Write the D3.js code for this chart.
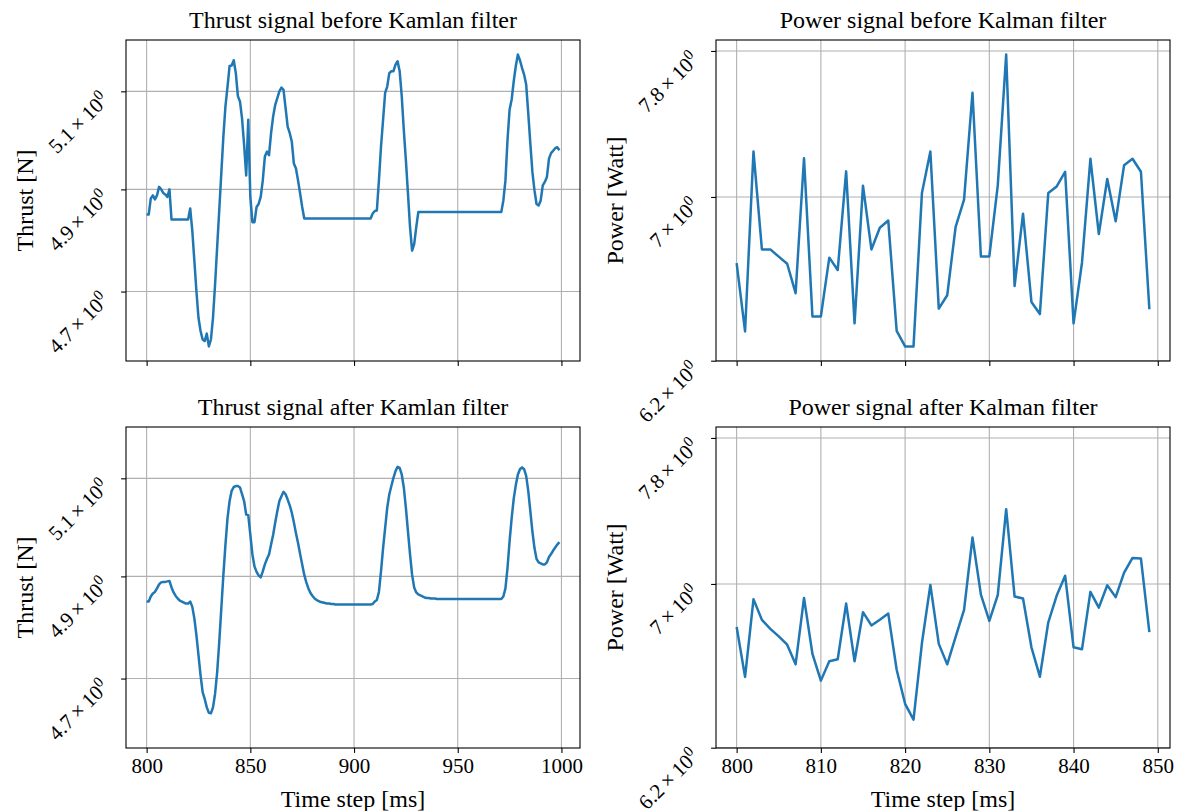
<!DOCTYPE html>
<html>
<head>
<meta charset="utf-8">
<script src="https://cdn.jsdelivr.net/npm/d3@7"></script>
<style>
body { margin: 0; background: #fff; }
svg text { font-family: "Liberation Serif", "Times New Roman", serif; fill: #000; }
</style>
</head>
<body>
<div id="chart"></div>
<script>
// ---- data ----
const thrustStart = 800;
const powerStart = 800;

// thrust [N], one value per ms step 800..999
const thrustBefore = [
    4.850, 4.850, 4.882, 4.888, 4.880, 4.888, 4.905, 4.900, 4.893, 4.890,
    4.885, 4.900, 4.840, 4.840, 4.840, 4.840, 4.840, 4.840, 4.840, 4.840,
    4.840, 4.862, 4.819, 4.760, 4.701, 4.650, 4.625, 4.609, 4.606, 4.620,
    4.596, 4.609, 4.650, 4.714, 4.786, 4.858, 4.932, 5.007, 5.069, 5.110,
    5.153, 5.154, 5.165, 5.138, 5.090, 5.079, 5.044, 4.990, 4.928, 5.041,
    4.885, 4.835, 4.835, 4.865, 4.871, 4.885, 4.918, 4.966, 4.976, 4.969,
    5.014, 5.048, 5.072, 5.086, 5.100, 5.108, 5.103, 5.065, 5.027, 5.014,
    4.996, 4.952, 4.942, 4.918, 4.892, 4.865, 4.842, 4.842, 4.842, 4.842,
    4.842, 4.842, 4.842, 4.842, 4.842, 4.842, 4.842, 4.842, 4.842, 4.842,
    4.842, 4.842, 4.842, 4.842, 4.842, 4.842, 4.842, 4.842, 4.842, 4.842,
    4.842, 4.842, 4.842, 4.842, 4.842, 4.842, 4.842, 4.842, 4.842, 4.852,
    4.857, 4.858, 4.918, 4.986, 5.041, 5.097, 5.110, 5.138, 5.142, 5.142,
    5.156, 5.163, 5.142, 5.090, 5.020, 4.959, 4.892, 4.825, 4.779, 4.792,
    4.825, 4.855, 4.855, 4.855, 4.855, 4.855, 4.855, 4.855, 4.855, 4.855,
    4.855, 4.855, 4.855, 4.855, 4.855, 4.855, 4.855, 4.855, 4.855, 4.855,
    4.855, 4.855, 4.855, 4.855, 4.855, 4.855, 4.855, 4.855, 4.855, 4.855,
    4.855, 4.855, 4.855, 4.855, 4.855, 4.855, 4.855, 4.855, 4.855, 4.855,
    4.855, 4.855, 4.878, 4.918, 5.000, 5.062, 5.083, 5.121, 5.153, 5.177,
    5.165, 5.149, 5.135, 5.114, 5.055, 4.993, 4.935, 4.898, 4.871, 4.868,
    4.878, 4.908, 4.915, 4.925, 4.962, 4.973, 4.978, 4.983, 4.985, 4.979
];

const thrustAfter = [
    4.850, 4.850, 4.860, 4.866, 4.869, 4.876, 4.884, 4.888, 4.889, 4.889,
    4.890, 4.891, 4.878, 4.868, 4.861, 4.856, 4.852, 4.850, 4.848, 4.846,
    4.846, 4.850, 4.840, 4.817, 4.784, 4.745, 4.706, 4.674, 4.661, 4.645,
    4.635, 4.634, 4.645, 4.671, 4.712, 4.770, 4.836, 4.903, 4.964, 5.018,
    5.053, 5.074, 5.082, 5.084, 5.084, 5.081, 5.067, 5.053, 5.025, 5.024,
    4.984, 4.944, 4.920, 4.909, 4.902, 4.898, 4.910, 4.924, 4.935, 4.944,
    4.964, 4.984, 5.009, 5.032, 5.053, 5.063, 5.072, 5.067, 5.056, 5.044,
    5.029, 5.009, 4.987, 4.967, 4.945, 4.924, 4.903, 4.888, 4.876, 4.867,
    4.861, 4.856, 4.853, 4.851, 4.849, 4.848, 4.847, 4.846, 4.846, 4.845,
    4.845, 4.844, 4.844, 4.844, 4.844, 4.844, 4.844, 4.844, 4.844, 4.844,
    4.844, 4.844, 4.844, 4.844, 4.844, 4.844, 4.844, 4.844, 4.844, 4.845,
    4.850, 4.853, 4.869, 4.910, 4.957, 4.998, 5.039, 5.067, 5.084, 5.101,
    5.115, 5.124, 5.122, 5.108, 5.081, 5.039, 4.991, 4.944, 4.903, 4.878,
    4.868, 4.864, 4.862, 4.860, 4.858, 4.857, 4.857, 4.856, 4.856, 4.856,
    4.855, 4.855, 4.855, 4.855, 4.855, 4.855, 4.855, 4.855, 4.855, 4.855,
    4.855, 4.855, 4.855, 4.855, 4.855, 4.855, 4.855, 4.855, 4.855, 4.855,
    4.855, 4.855, 4.855, 4.855, 4.855, 4.855, 4.855, 4.855, 4.855, 4.855,
    4.855, 4.855, 4.860, 4.876, 4.917, 4.971, 5.018, 5.058, 5.086, 5.108,
    5.119, 5.123, 5.119, 5.105, 5.074, 5.032, 4.991, 4.957, 4.935, 4.928,
    4.926, 4.924, 4.924, 4.928, 4.939, 4.945, 4.952, 4.958, 4.964, 4.969
];

// power [Watt], one value per ms step 800..849
const powerBefore = [
    6.665, 6.336, 7.240, 6.733, 6.733, 6.697, 6.662, 6.518, 7.204, 6.407,
    6.407, 6.692, 6.631, 7.134, 6.374, 7.059, 6.733, 6.842, 6.879, 6.339,
    6.266, 6.266, 7.021, 7.240, 6.444, 6.508, 6.847, 6.986, 7.562, 6.698,
    6.698, 7.059, 7.779, 6.553, 6.914, 6.476, 6.418, 7.021, 7.055, 7.132,
    6.374, 6.667, 7.201, 6.810, 7.094, 6.875, 7.167, 7.201, 7.132, 6.441
];

const powerAfter = [
    6.780, 6.534, 6.921, 6.816, 6.771, 6.733, 6.692, 6.595, 6.928, 6.646,
    6.516, 6.610, 6.620, 6.899, 6.610, 6.855, 6.788, 6.817, 6.848, 6.569,
    6.405, 6.330, 6.700, 6.995, 6.696, 6.595, 6.731, 6.867, 7.245, 6.945,
    6.811, 6.942, 7.399, 6.935, 6.925, 6.679, 6.535, 6.804, 6.940, 7.043,
    6.679, 6.669, 6.959, 6.878, 6.993, 6.932, 7.059, 7.136, 7.133, 6.755
];

// ticks
const thrustXTicks = [800, 850, 900, 950, 1000];
const powerXTicks = [800, 810, 820, 830, 840, 850];
const thrustYTicks = [4.7, 4.9, 5.1];
const thrustYLabels = ["4.7", "4.9", "5.1"];
const powerYTicks = [6.2, 7, 7.8];
const powerYLabels = ["6.2", "7", "7.8"];

// ---- layout ----
const chartWidth = 1181, chartHeight = 811;
const panelW = 454, panelH = 321;
const colLeft = [126, 716];
const rowTop = [40, 427];
const labelSize = 24;   // titles and axis labels
const tickSize = 21;    // tick labels
const tickLen = 4.9;

const svg = d3.select("#chart")
    .append("svg")
    .attr("width", chartWidth)
    .attr("height", chartHeight);

// matplotlib-style 5% margins
function padLinear(lo, hi) {
    const m = (hi - lo) * 0.05;
    return [lo - m, hi + m];
}
function padLog(lo, hi) {
    const m = (Math.log(hi) - Math.log(lo)) * 0.05;
    return [Math.exp(Math.log(lo) - m), Math.exp(Math.log(hi) + m)];
}

// shared y per column
const thrustExtent = d3.extent(thrustBefore.concat(thrustAfter));
const powerExtent = d3.extent(powerBefore.concat(powerAfter));

const panels = [
    {col: 0, row: 0, data: thrustBefore, start: thrustStart, title: "Thrust signal before Kamlan filter",
     ylabel: "Thrust [N]", xTicks: thrustXTicks, yTicks: thrustYTicks, yLabels: thrustYLabels,
     yDomain: padLog(thrustExtent[0], thrustExtent[1]), xlabels: false},
    {col: 1, row: 0, data: powerBefore, start: powerStart, title: "Power signal before Kalman filter",
     ylabel: "Power [Watt]", xTicks: powerXTicks, yTicks: powerYTicks, yLabels: powerYLabels,
     yDomain: padLog(powerExtent[0], powerExtent[1]), xlabels: false},
    {col: 0, row: 1, data: thrustAfter, start: thrustStart, title: "Thrust signal after Kamlan filter",
     ylabel: "Thrust [N]", xTicks: thrustXTicks, yTicks: thrustYTicks, yLabels: thrustYLabels,
     yDomain: padLog(thrustExtent[0], thrustExtent[1]), xlabels: true},
    {col: 1, row: 1, data: powerAfter, start: powerStart, title: "Power signal after Kalman filter",
     ylabel: "Power [Watt]", xTicks: powerXTicks, yTicks: powerYTicks, yLabels: powerYLabels,
     yDomain: padLog(powerExtent[0], powerExtent[1]), xlabels: true}
];

panels.forEach(drawPanel);

function drawPanel(p, idx) {
    const g = svg.append("g")
        .attr("transform", "translate(" + colLeft[p.col] + "," + rowTop[p.row] + ")");

    const x = d3.scaleLinear()
        .domain(padLinear(p.start, p.start + p.data.length - 1))
        .range([0, panelW]);
    const y = d3.scaleLog()
        .domain(p.yDomain)
        .range([panelH, 0]);

    // grid
    g.append("g").selectAll("line")
        .data(p.xTicks)
        .enter().append("line")
        .attr("x1", d => x(d)).attr("x2", d => x(d))
        .attr("y1", 0).attr("y2", panelH)
        .attr("stroke", "#b0b0b0").attr("stroke-width", 1.1);
    g.append("g").selectAll("line")
        .data(p.yTicks)
        .enter().append("line")
        .attr("x1", 0).attr("x2", panelW)
        .attr("y1", d => y(d)).attr("y2", d => y(d))
        .attr("stroke", "#b0b0b0").attr("stroke-width", 1.1);

    // the signal
    const clipId = "clip" + idx;
    g.append("clipPath").attr("id", clipId)
        .append("rect").attr("width", panelW).attr("height", panelH);
    const line = d3.line()
        .x((d, i) => x(p.start + i))
        .y(d => y(d));
    g.append("path")
        .datum(p.data)
        .attr("clip-path", "url(#" + clipId + ")")
        .attr("fill", "none")
        .attr("stroke", "#1f77b4")
        .attr("stroke-width", 2.5)
        .attr("stroke-linejoin", "round")
        .attr("d", line);

    // x axis
    const xAxis = g.append("g")
        .attr("transform", "translate(0," + panelH + ")")
        .call(d3.axisBottom(x)
            .tickValues(p.xTicks)
            .tickSize(tickLen)
            .tickPadding(5)
            .tickFormat(p.xlabels ? d3.format("d") : ""));
    xAxis.select(".domain").remove();
    xAxis.selectAll("line").attr("stroke", "#000").attr("stroke-width", 1.1);
    xAxis.selectAll("text")
        .style("font-family", "'Liberation Serif', 'Times New Roman', serif")
        .style("font-size", tickSize + "px");

    // y axis (labels drawn by hand, rotated like the reference)
    const yAxis = g.append("g")
        .call(d3.axisLeft(y)
            .tickValues(p.yTicks)
            .tickSize(tickLen)
            .tickFormat(""));
    yAxis.select(".domain").remove();
    yAxis.selectAll("line").attr("stroke", "#000").attr("stroke-width", 1.1);

    p.yTicks.forEach((t, i) => {
        const lbl = g.append("text")
            .attr("text-anchor", "end")
            .attr("transform", "translate(" + (-tickLen - 11) + "," + (y(t) + 10) + ") rotate(-45)")
            .style("font-size", tickSize + "px");
        lbl.append("tspan").text(p.yLabels[i] + "\u2009\u00d7\u200910");
        lbl.append("tspan")
            .attr("dy", -8)
            .style("font-size", (tickSize * 0.72) + "px")
            .text("0");
    });

    // frame
    g.append("rect")
        .attr("width", panelW).attr("height", panelH)
        .attr("fill", "none")
        .attr("stroke", "#000").attr("stroke-width", 1.1);

    // title
    g.append("text")
        .attr("x", panelW / 2).attr("y", -12)
        .attr("text-anchor", "middle")
        .style("font-size", labelSize + "px")
        .text(p.title);

    // y label
    g.append("text")
        .attr("transform", "translate(-93," + (panelH / 2) + ") rotate(-90)")
        .attr("text-anchor", "middle")
        .style("font-size", labelSize + "px")
        .text(p.ylabel);

    // x label
    if (p.xlabels) {
        g.append("text")
            .attr("x", panelW / 2).attr("y", panelH + 59)
            .attr("text-anchor", "middle")
            .style("font-size", labelSize + "px")
            .text("Time step [ms]");
    }
}
</script>
</body>
</html>
